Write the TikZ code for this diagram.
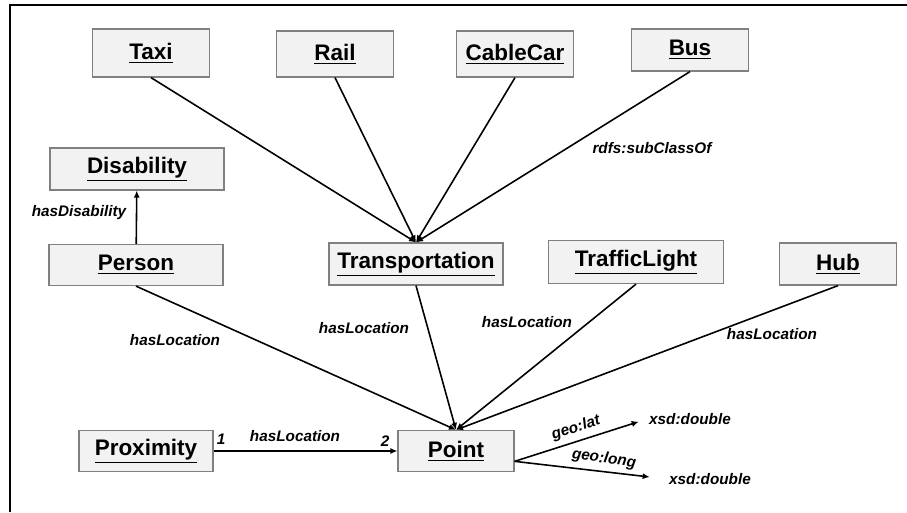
\documentclass[tikz,border=0pt]{standalone}
\usepackage{fontspec}
\setmainfont{Liberation Sans}
\usetikzlibrary{arrows.meta}
\definecolor{boxfill}{HTML}{F2F2F2}
\definecolor{boxline}{HTML}{808080}

\begin{document}
\begin{tikzpicture}
  [x=0.02cm,y=-0.02cm,
   cls/.style={draw=boxline,fill=boxfill,line width=0.7pt,inner sep=0pt,
               font=\fontsize{12.8}{15}\selectfont\bfseries},
   lbl/.style={font=\fontsize{8.7}{10}\selectfont\bfseries\itshape,inner sep=1pt},
   rel/.style={line width=0.9pt,-{Latex[length=4pt,width=3.5pt]}}]
    \useasboundingbox (0,0) rectangle (907,512);
    \draw[line width=1.2pt] (10,512) -- (10,5) -- (907,5);

    \node (taxi)  [cls,minimum width=2.34cm,minimum height=0.96cm] at (151,53)  {\underline{Taxi}};
    \node (rail)  [cls,minimum width=2.34cm,minimum height=0.92cm] at (335,54)  {\underline{Rail}};
    \node (cable) [cls,minimum width=2.34cm,minimum height=0.92cm] at (515,54)  {\underline{CableCar}};
    \node (bus)   [cls,minimum width=2.34cm,minimum height=0.84cm] at (690,50)  {\underline{Bus}};
    \node (dis)   [cls,minimum width=3.48cm,minimum height=0.84cm] at (137,169) {\underline{Disability}};
    \node (person)[cls,minimum width=3.48cm,minimum height=0.82cm] at (136,265) {\underline{Person}};
    \node (trans) [cls,minimum width=3.48cm,minimum height=0.84cm] at (416,264) {\underline{Transportation}};
    \node (light) [cls,minimum width=3.50cm,minimum height=0.86cm] at (636,262) {\underline{TrafficLight}};
    \node (hub)   [cls,minimum width=2.34cm,minimum height=0.84cm] at (838,264) {\underline{Hub}};
    \node (prox)  [cls,minimum width=2.68cm,minimum height=0.82cm] at (146,451) {\underline{Proximity}};
    \node (point) [cls,minimum width=2.32cm,minimum height=0.82cm] at (456,451) {\underline{Point}};

    \node (lat)  [lbl] at (690,419) {xsd:double};
    \node (long) [lbl] at (710,479) {xsd:double};

    \node (l1) [lbl] at (79,213)  {hasDisability};
    \node (l2) [lbl] at (652,148) {rdfs:subClassOf};
    \node (l3) [lbl] at (175,340) {hasLocation};
    \node (l4) [lbl] at (364,328) {hasLocation};
    \node (l5) [lbl] at (527,322) {hasLocation};
    \node (l6) [lbl] at (772,334) {hasLocation};
    \node (l7) [lbl] at (295,436) {hasLocation};
    \node (n1) [lbl] at (221,439) {1};
    \node (n2) [lbl] at (385,441) {2};
    \node (l8) [lbl,rotate=18] at (576,428) {geo:lat};
    \node (l9) [lbl,rotate=-8] at (604,459) {geo:long};

    \foreach \from/\to in {taxi/trans,rail/trans,cable/trans,bus/trans,
                           person/point,trans/point,light/point,hub/point}
      \draw[rel] (\from.south) -- (\to.north);
    \draw[rel] (person) -- (dis);
    \draw[rel] (prox) -- (point);
    \draw[rel,shorten >=5pt] (point.-10) -- (lat.west);
    \draw[rel,shorten >=10pt] (point.-10) -- (long.west);
  \end{tikzpicture}
\end{document}
